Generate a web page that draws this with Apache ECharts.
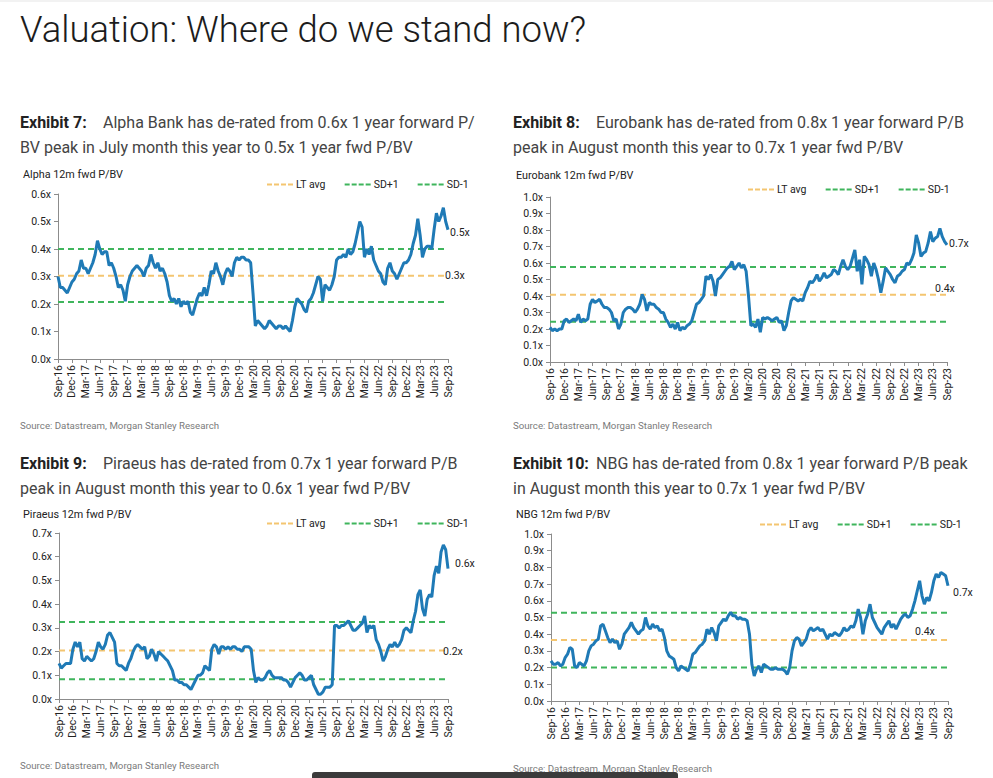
<!DOCTYPE html>
<html><head><meta charset="utf-8">
<script src="https://cdn.jsdelivr.net/npm/echarts@6/dist/echarts.min.js"></script>
<style>html,body{margin:0;padding:0;background:#fff}#c{width:993px;height:778px}</style>
</head><body><div id="c"></div><script>
// Quarterly tick labels (every 6 half-month slots)
const tickLabels = ['Sep-16','Dec-16','Mar-17','Jun-17','Sep-17','Dec-17','Mar-18','Jun-18','Sep-18','Dec-18','Mar-19','Jun-19','Sep-19','Dec-19','Mar-20','Jun-20','Sep-20','Dec-20','Mar-21','Jun-21','Sep-21','Dec-21','Mar-22','Jun-22','Sep-22','Dec-22','Mar-23','Jun-23','Sep-23'];

// Semi-monthly readings, Sep-16 .. Sep-23 (169 points)
const alpha = [0.30,0.26,0.26,0.25,0.24,0.26,0.28,0.29,0.31,0.32,0.36,0.33,0.33,0.31,0.33,0.35,0.38,0.43,0.40,0.38,0.39,0.39,0.34,0.35,0.33,0.30,0.26,0.27,0.25,0.21,0.27,0.30,0.32,0.33,0.34,0.33,0.32,0.30,0.33,0.34,0.38,0.35,0.33,0.35,0.32,0.33,0.31,0.28,0.23,0.21,0.22,0.20,0.22,0.19,0.21,0.20,0.21,0.17,0.16,0.19,0.22,0.24,0.23,0.26,0.23,0.27,0.32,0.31,0.35,0.32,0.30,0.27,0.31,0.33,0.32,0.30,0.35,0.37,0.36,0.37,0.37,0.36,0.36,0.35,0.24,0.12,0.14,0.13,0.12,0.11,0.12,0.14,0.13,0.12,0.11,0.12,0.12,0.11,0.12,0.11,0.10,0.14,0.19,0.22,0.21,0.20,0.18,0.17,0.21,0.22,0.24,0.27,0.30,0.29,0.21,0.27,0.26,0.25,0.27,0.30,0.36,0.37,0.37,0.38,0.37,0.40,0.38,0.39,0.42,0.46,0.50,0.48,0.37,0.40,0.38,0.41,0.36,0.34,0.32,0.31,0.28,0.27,0.33,0.35,0.32,0.31,0.29,0.31,0.33,0.35,0.35,0.36,0.38,0.42,0.45,0.51,0.45,0.37,0.40,0.41,0.41,0.40,0.47,0.53,0.50,0.52,0.55,0.50,0.47];
const eurobank = [0.21,0.19,0.20,0.19,0.20,0.20,0.25,0.26,0.24,0.25,0.26,0.25,0.29,0.24,0.26,0.25,0.26,0.35,0.38,0.36,0.37,0.38,0.35,0.33,0.33,0.32,0.30,0.25,0.26,0.20,0.23,0.30,0.32,0.33,0.33,0.32,0.30,0.32,0.35,0.41,0.38,0.31,0.36,0.35,0.35,0.33,0.32,0.30,0.30,0.26,0.24,0.21,0.23,0.20,0.24,0.19,0.21,0.20,0.22,0.23,0.25,0.30,0.35,0.36,0.38,0.40,0.52,0.50,0.53,0.49,0.40,0.50,0.51,0.53,0.55,0.57,0.58,0.61,0.56,0.58,0.60,0.57,0.59,0.55,0.40,0.22,0.23,0.21,0.26,0.18,0.27,0.26,0.27,0.26,0.25,0.26,0.27,0.24,0.25,0.19,0.22,0.30,0.37,0.39,0.38,0.37,0.38,0.37,0.42,0.45,0.49,0.48,0.50,0.53,0.49,0.51,0.54,0.51,0.52,0.53,0.56,0.55,0.53,0.58,0.62,0.58,0.56,0.58,0.63,0.68,0.55,0.62,0.47,0.64,0.62,0.59,0.52,0.60,0.56,0.50,0.42,0.49,0.57,0.55,0.53,0.50,0.48,0.52,0.53,0.55,0.56,0.60,0.59,0.62,0.66,0.77,0.72,0.64,0.66,0.67,0.72,0.79,0.73,0.75,0.76,0.81,0.76,0.73,0.71];
const piraeus = [0.15,0.13,0.14,0.15,0.15,0.15,0.21,0.24,0.22,0.24,0.17,0.16,0.18,0.17,0.16,0.17,0.20,0.24,0.22,0.21,0.23,0.27,0.28,0.26,0.24,0.15,0.14,0.14,0.13,0.12,0.15,0.17,0.20,0.22,0.23,0.22,0.21,0.22,0.17,0.18,0.21,0.19,0.16,0.20,0.19,0.18,0.17,0.16,0.14,0.12,0.08,0.08,0.07,0.07,0.06,0.06,0.05,0.04,0.06,0.08,0.10,0.10,0.11,0.14,0.13,0.12,0.21,0.23,0.22,0.19,0.22,0.22,0.21,0.22,0.21,0.22,0.22,0.21,0.21,0.20,0.22,0.22,0.22,0.21,0.12,0.07,0.09,0.08,0.08,0.09,0.11,0.12,0.10,0.09,0.09,0.09,0.09,0.08,0.08,0.07,0.05,0.07,0.09,0.10,0.11,0.10,0.08,0.08,0.09,0.10,0.06,0.04,0.02,0.02,0.03,0.05,0.05,0.05,0.06,0.31,0.31,0.30,0.31,0.31,0.32,0.33,0.31,0.29,0.29,0.30,0.31,0.32,0.35,0.28,0.31,0.30,0.31,0.25,0.23,0.20,0.16,0.18,0.21,0.23,0.22,0.24,0.22,0.23,0.25,0.29,0.30,0.29,0.28,0.33,0.37,0.44,0.46,0.38,0.35,0.42,0.44,0.43,0.52,0.56,0.53,0.62,0.65,0.63,0.55];
const nbg = [0.24,0.22,0.22,0.23,0.21,0.22,0.26,0.28,0.32,0.31,0.21,0.20,0.23,0.22,0.21,0.24,0.30,0.33,0.34,0.36,0.37,0.45,0.46,0.42,0.38,0.35,0.37,0.35,0.36,0.31,0.34,0.40,0.42,0.44,0.47,0.44,0.42,0.40,0.42,0.43,0.50,0.45,0.43,0.46,0.44,0.45,0.42,0.43,0.38,0.30,0.27,0.26,0.25,0.20,0.18,0.21,0.20,0.19,0.18,0.22,0.28,0.29,0.31,0.33,0.34,0.36,0.43,0.40,0.44,0.41,0.36,0.45,0.47,0.49,0.48,0.51,0.53,0.51,0.51,0.49,0.50,0.49,0.49,0.48,0.40,0.22,0.15,0.19,0.21,0.17,0.22,0.21,0.20,0.19,0.19,0.20,0.19,0.19,0.19,0.18,0.16,0.20,0.30,0.36,0.38,0.37,0.33,0.35,0.37,0.42,0.44,0.42,0.43,0.44,0.42,0.43,0.40,0.37,0.40,0.39,0.41,0.40,0.39,0.41,0.44,0.42,0.43,0.45,0.44,0.48,0.55,0.50,0.40,0.48,0.52,0.58,0.50,0.47,0.44,0.42,0.40,0.44,0.46,0.48,0.44,0.46,0.43,0.46,0.49,0.51,0.52,0.50,0.51,0.55,0.60,0.66,0.72,0.63,0.58,0.62,0.60,0.65,0.72,0.76,0.74,0.77,0.76,0.75,0.69];

// Reference levels: [LT avg, SD+1, SD-1]
const alphaLevels = [0.303, 0.400, 0.207];
const eurobankLevels = [0.408, 0.576, 0.244];
const piraeusLevels = [0.204, 0.325, 0.083];
const nbgLevels = [0.365, 0.528, 0.201];

const legendNames = ['LT avg', 'SD+1', 'SD-1'];
const endLabels = ['0.5x', '0.7x', '0.6x', '0.7x'];
const avgLabels = ['0.3x', '0.4x', '0.2x', '0.4x'];
const yMax = [0.6, 1.0, 0.7, 1.0];

const categories = alpha.map((_, i) => i % 6 === 0 ? tickLabels[i / 6] : 'h' + i);

const panels = [
  {data: alpha, levels: alphaLevels, grid: {left: 58, top: 194, width: 390, height: 165}, legend: {left: 267, top: 174}, endOff: [0, 3], avgOff: [-5, 0]},
  {data: eurobank, levels: eurobankLevels, grid: {left: 550, top: 197, width: 397, height: 165}, legend: {left: 748, top: 179}, endOff: [0, -1], avgOff: [-14, -6]},
  {data: piraeus, levels: piraeusLevels, grid: {left: 59, top: 533, width: 389, height: 166}, legend: {left: 267, top: 513}, endOff: [5, -5], avgOff: [-7, 1]},
  {data: nbg, levels: nbgLevels, grid: {left: 551, top: 534, width: 397, height: 167}, legend: {left: 760, top: 514}, endOff: [3, 7], avgOff: [-35, -9]}
];

const FONT = 'Roboto, "Noto Sans", sans-serif';
const BLUE = '#1f7ab6', ORANGE = '#f4c570', GREEN = '#3fb55c';
const lvlColors = [ORANGE, GREEN, GREEN];
const DASH_ICON = 'path://M0,0h5v2h-5z M7,0h5v2h-5z M14,0h5v2h-5z M21,0h5v2h-5z';

const grid = [], xAxis = [], yAxis = [], series = [], legend = [];
panels.forEach((p, i) => {
  grid.push(Object.assign({containLabel: false}, p.grid));
  xAxis.push({
    type: 'category', gridIndex: i, data: categories, boundaryGap: false,
    axisLine: {lineStyle: {color: '#8c8c8c', width: 1}},
    axisTick: {show: true, interval: (idx) => idx % 6 === 0, length: 4, lineStyle: {color: '#8c8c8c'}},
    axisLabel: {interval: (idx) => idx % 6 === 0, rotate: 90, margin: 6, fontSize: 10.5, color: '#222', fontFamily: FONT},
    splitLine: {show: false}
  });
  yAxis.push({
    type: 'value', gridIndex: i, min: 0, max: yMax[i], interval: 0.1,
    axisLine: {show: true, lineStyle: {color: '#8c8c8c', width: 1}},
    axisTick: {show: true, length: 4, lineStyle: {color: '#8c8c8c'}},
    axisLabel: {formatter: (v) => v.toFixed(1) + 'x', fontSize: 10.5, color: '#222', fontFamily: FONT, margin: 7},
    splitLine: {show: false}
  });
  p.levels.forEach((lv, k) => {
    const s = {
      name: legendNames[k], type: 'line', xAxisIndex: i, yAxisIndex: i,
      data: categories.map(() => lv), symbol: 'none', silent: true, z: 2,
      lineStyle: {color: lvlColors[k], width: 2, type: [6, 4]},
      itemStyle: {color: lvlColors[k]}
    };
    if (k === 0) {
      s.endLabel = {show: true, formatter: avgLabels[i], distance: 2, offset: p.avgOff, fontSize: 10.5, color: '#222', fontFamily: FONT};
    }
    series.push(s);
  });
  series.push({
    name: 'P/BV ' + i, type: 'line', xAxisIndex: i, yAxisIndex: i, data: p.data,
    symbol: 'none', silent: true, z: 5,
    lineStyle: {color: BLUE, width: 3}, itemStyle: {color: BLUE},
    endLabel: {show: true, formatter: endLabels[i], distance: 2, offset: p.endOff, fontSize: 10.5, color: '#222', fontFamily: FONT}
  });
  legend.push({
    data: legendNames.map(n => ({name: n, icon: DASH_ICON})),
    left: p.legend.left, top: p.legend.top + 5, orient: 'horizontal', padding: 0,
    itemWidth: 26, itemHeight: 2, itemGap: 19, selectedMode: false,
    textStyle: {fontSize: 10.5, color: '#222', fontFamily: FONT, padding: [0, 0, 0, -2]}
  });
});

function txt(x, y, text, size, color, weight, family) {
  return {type: 'text', x: x, y: y, silent: true,
    style: {text: text, fontSize: size, fontFamily: family || FONT, fontWeight: weight || 'normal', fill: color, verticalAlign: 'middle', align: 'left'}};
}
const SRC = 'Source: Datastream, Morgan Stanley Research';
const BODY = '#444';
const graphic = [
  txt(20, 29, 'Valuation: Where do we stand now?', 36.5, '#1c1c1c', 300, '"Roboto Light", Roboto, sans-serif'),
  txt(20, 122, 'Exhibit 7:', 16, '#222', 'bold'),
  txt(103, 122, 'Alpha Bank has de-rated from 0.6x 1 year forward P/', 16, BODY),
  txt(20, 147, 'BV peak in July month this year to 0.5x 1 year fwd P/BV', 16, BODY),
  txt(513, 122, 'Exhibit 8:', 16, '#222', 'bold'),
  txt(596, 122, 'Eurobank has de-rated from 0.8x 1 year forward P/B', 16, BODY),
  txt(513, 147, 'peak in August month this year to 0.7x 1 year fwd P/BV', 16, BODY),
  txt(20, 463, 'Exhibit 9:', 16, '#222', 'bold'),
  txt(103, 463, 'Piraeus has de-rated from 0.7x 1 year forward P/B', 16, BODY),
  txt(20, 488, 'peak in August month this year to 0.6x 1 year fwd P/BV', 16, BODY),
  txt(513, 463, 'Exhibit 10:', 16, '#222', 'bold'),
  txt(596, 463, 'NBG has de-rated from 0.8x 1 year forward P/B peak', 16, BODY),
  txt(513, 488, 'in August month this year to 0.7x 1 year fwd P/BV', 16, BODY),
  txt(23, 174, 'Alpha 12m fwd P/BV', 10.8, '#222'),
  txt(516, 175, 'Eurobank 12m fwd P/BV', 10.8, '#222'),
  txt(23, 514, 'Piraeus 12m fwd P/BV', 10.8, '#222'),
  txt(516, 514, 'NBG 12m fwd P/BV', 10.8, '#222'),
  txt(20, 425, SRC, 9.7, '#7a7a7a'),
  txt(513, 425, SRC, 9.7, '#7a7a7a'),
  txt(20, 765, SRC, 9.7, '#7a7a7a'),
  txt(513, 768, SRC, 9.7, '#7a7a7a'),
  {type: 'rect', silent: true, shape: {x: 312, y: 772, width: 366, height: 10, r: 3}, style: {fill: '#3b3b3b'}},
  {type: 'rect', silent: true, shape: {x: 0, y: 0, width: 993, height: 2}, style: {fill: '#f2f2f2'}}
];

const chart = echarts.init(document.getElementById('c'), null, {renderer: 'svg'});
chart.setOption({animation: false, backgroundColor: '#fff', grid, xAxis, yAxis, series, legend, graphic});
</script></body></html>
